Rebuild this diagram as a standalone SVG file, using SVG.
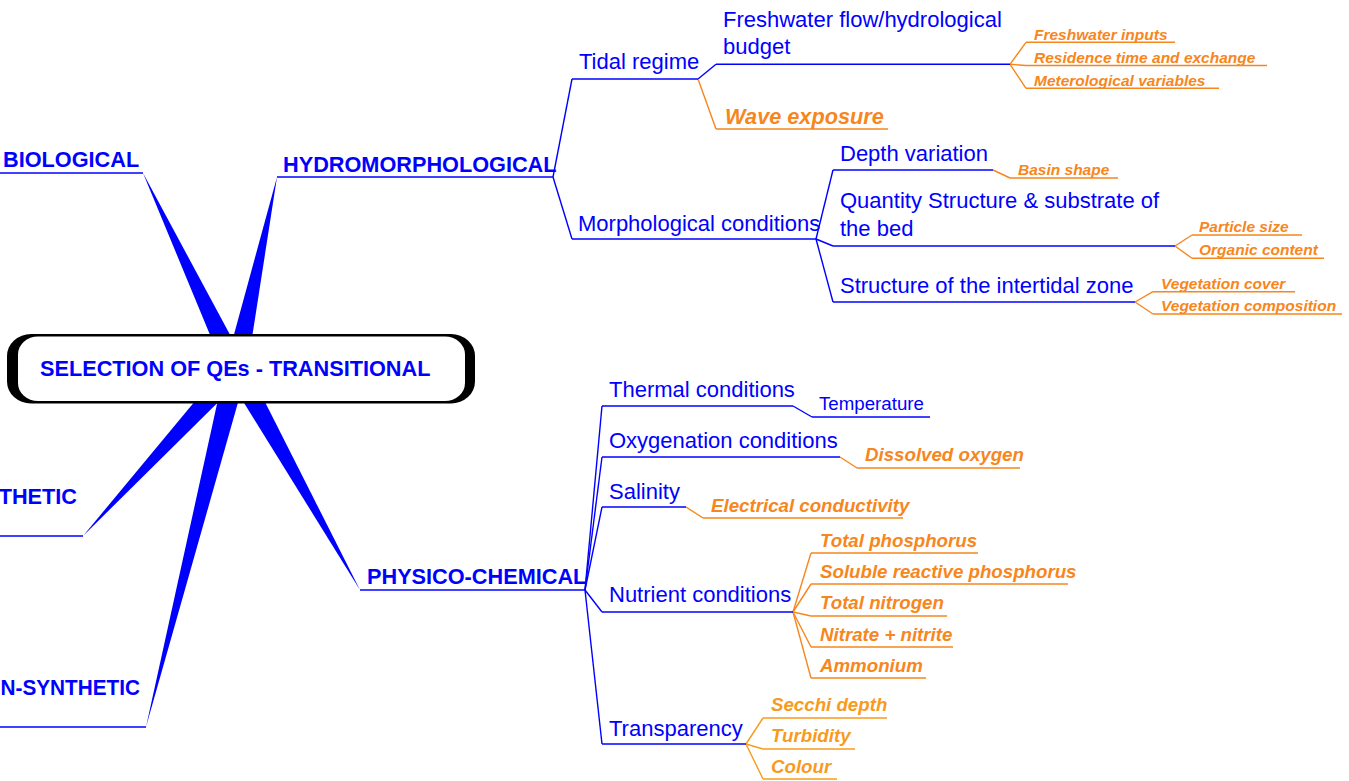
<svg xmlns="http://www.w3.org/2000/svg" width="1349" height="781" viewBox="0 0 1349 781">
<style>
text{font-family:"Liberation Sans",Arial,sans-serif}
.b1{font-size:21.7px;font-weight:bold;fill:#0000FF}
.r1{font-size:22px;fill:#0000FF}
.r2{font-size:18.7px;fill:#0000FF}
.o1{font-size:21.7px;font-weight:bold;font-style:italic;fill:#F7861C}
.o2{font-size:18.7px;font-weight:bold;font-style:italic;fill:#F7861C}
.o2y{font-size:18.7px;font-weight:bold;font-style:italic;fill:#F89B1C}
.o3{font-size:15.5px;font-weight:bold;font-style:italic;fill:#F7861C}
.bl{fill:none;stroke:#0000FF;stroke-width:1.4;stroke-linejoin:round}
.ol{fill:none;stroke:#F7861C;stroke-width:1.4;stroke-linejoin:round}
.oly{fill:none;stroke:#F89B1C;stroke-width:1.4;stroke-linejoin:round}
.wedge{fill:#0000FF;stroke:none}
</style>
<rect width="1349" height="781" fill="#FFFFFF"/>
<g id="connectors">
  <polygon class="wedge" points="143,173 226.1,373.7 245.9,364.3"/>
  <polygon class="wedge" points="277,177 225.2,366.7 246.8,371.3"/>
  <polygon class="wedge" points="83,536 244.1,376.4 227.9,361.6"/>
  <polygon class="wedge" points="146,727 246.7,371.7 225.3,366.3"/>
  <polygon class="wedge" points="360,590 245.6,363.6 226.4,374.4"/>
  <!-- hydromorphological -->
  <polyline class="bl" points="553,177 572,79"/>
  <polyline class="bl" points="553,177 572,239"/>
  <polyline class="bl" points="698,79 716,64.3"/>
  <polyline class="ol" points="698,79 716,129"/>
  <polyline class="ol" points="1010,64.3 1026,42.3"/>
  <polyline class="ol" points="1010,64.3 1026,65.5"/>
  <polyline class="ol" points="1010,64.3 1026,88.3"/>
  <polyline class="bl" points="816,239 833,170"/>
  <polyline class="bl" points="816,239 833,246"/>
  <polyline class="bl" points="816,239 833,302"/>
  <polyline class="ol" points="993,170 1010,178"/>
  <polyline class="ol" points="1175,246 1192,235"/>
  <polyline class="ol" points="1175,246 1192,258.3"/>
  <polyline class="ol" points="1135,302 1153,291.7"/>
  <polyline class="ol" points="1135,302 1153,314"/>
  <!-- physico-chemical -->
  <polyline class="bl" points="585,590 602,406"/>
  <polyline class="bl" points="585,590 602,457"/>
  <polyline class="bl" points="585,590 602,507"/>
  <polyline class="bl" points="585,590 602,612"/>
  <polyline class="bl" points="585,590 602,744"/>
  <polyline class="bl" points="793,406 812,417"/>
  <polyline class="ol" points="840,457 857,468"/>
  <polyline class="ol" points="686,507 703,518"/>
  <polyline class="ol" points="793,612 811,553"/>
  <polyline class="ol" points="793,612 811,584"/>
  <polyline class="ol" points="793,612 811,616"/>
  <polyline class="ol" points="793,612 811,647"/>
  <polyline class="ol" points="793,612 811,678"/>
  <polyline class="oly" points="746,744 763,718"/>
  <polyline class="oly" points="746,744 763,749"/>
  <polyline class="oly" points="746,744 763,779"/>
</g>
<g id="center">
  <rect x="7" y="334" width="468" height="69.5" rx="24" ry="22" fill="#000000"/>
  <rect x="18" y="336.5" width="447" height="64.5" rx="20" ry="18" fill="#FFFFFF"/>
  <text class="b1" x="40" y="376">SELECTION OF QEs - TRANSITIONAL</text>
</g>
<g id="biological">
  <line class="bl" x1="0" y1="173" x2="143" y2="173"/>
  <text class="b1" x="3" y="167">BIOLOGICAL</text>
</g>
<g id="synthetic">
  <line class="bl" x1="0" y1="536" x2="83" y2="536"/>
  <text class="b1" x="77" y="504" text-anchor="end">THETIC</text>
</g>
<g id="non-synthetic">
  <line class="bl" x1="0" y1="727" x2="146" y2="727"/>
  <text class="b1" x="0.5" y="695" textLength="139.5" lengthAdjust="spacingAndGlyphs">N-SYNTHETIC</text>
</g>
<g id="hydromorphological">
  <line class="bl" x1="277" y1="177" x2="553" y2="177"/>
  <text class="b1" x="283" y="172">HYDROMORPHOLOGICAL</text>
</g>
<g id="physico-chemical">
  <line class="bl" x1="360" y1="590" x2="585" y2="590"/>
  <text class="b1" x="367" y="584">PHYSICO-CHEMICAL</text>
</g>
<g id="tidal-regime">
  <line class="bl" x1="572" y1="79" x2="698" y2="79"/>
  <text class="r1" x="579" y="69">Tidal regime</text>
</g>
<g id="freshwater-flow">
  <line class="bl" x1="716" y1="64.3" x2="1010" y2="64.3"/>
  <text class="r1" x="723" y="27">Freshwater flow/hydrological</text>
  <text class="r1" x="723" y="54">budget</text>
</g>
<g id="freshwater-inputs">
  <line class="ol" x1="1026" y1="42.3" x2="1175" y2="42.3"/>
  <text class="o3" x="1034" y="39.5">Freshwater inputs</text>
</g>
<g id="residence-time">
  <line class="ol" x1="1026" y1="65.5" x2="1267" y2="65.5"/>
  <text class="o3" x="1034" y="62.5">Residence time and exchange</text>
</g>
<g id="meterological">
  <line class="ol" x1="1026" y1="88.3" x2="1219" y2="88.3"/>
  <text class="o3" x="1034" y="85.5">Meterological variables</text>
</g>
<g id="wave-exposure">
  <line class="ol" x1="716" y1="129" x2="888" y2="129"/>
  <text class="o1" x="725" y="123.5">Wave exposure</text>
</g>
<g id="morphological-conditions">
  <line class="bl" x1="572" y1="239" x2="816" y2="239"/>
  <text class="r1" x="578" y="231">Morphological conditions</text>
</g>
<g id="depth-variation">
  <line class="bl" x1="833" y1="170" x2="993" y2="170"/>
  <text class="r1" x="840" y="161">Depth variation</text>
</g>
<g id="basin-shape">
  <line class="ol" x1="1010" y1="178" x2="1118" y2="178"/>
  <text class="o3" x="1018" y="175">Basin shape</text>
</g>
<g id="quantity-structure">
  <line class="bl" x1="833" y1="246" x2="1175" y2="246"/>
  <text class="r1" x="840" y="208">Quantity Structure &amp; substrate of</text>
  <text class="r1" x="840" y="235.5">the bed</text>
</g>
<g id="particle-size">
  <line class="ol" x1="1192" y1="235" x2="1302" y2="235"/>
  <text class="o3" x="1199" y="232">Particle size</text>
</g>
<g id="organic-content">
  <line class="ol" x1="1192" y1="258.3" x2="1324" y2="258.3"/>
  <text class="o3" x="1199" y="255.3">Organic content</text>
</g>
<g id="intertidal-zone">
  <line class="bl" x1="833" y1="302" x2="1135" y2="302"/>
  <text class="r1" x="840" y="293">Structure of the intertidal zone</text>
</g>
<g id="vegetation-cover">
  <line class="ol" x1="1153" y1="291.7" x2="1295" y2="291.7"/>
  <text class="o3" x="1161" y="288.5">Vegetation cover</text>
</g>
<g id="vegetation-composition">
  <line class="ol" x1="1153" y1="314" x2="1342" y2="314"/>
  <text class="o3" x="1161" y="311">Vegetation composition</text>
</g>
<g id="thermal-conditions">
  <line class="bl" x1="602" y1="406" x2="793" y2="406"/>
  <text class="r1" x="609" y="397">Thermal conditions</text>
</g>
<g id="temperature">
  <line class="bl" x1="812" y1="417" x2="930" y2="417"/>
  <text class="r2" x="819" y="410">Temperature</text>
</g>
<g id="oxygenation-conditions">
  <line class="bl" x1="602" y1="457" x2="840" y2="457"/>
  <text class="r1" x="609" y="448">Oxygenation conditions</text>
</g>
<g id="dissolved-oxygen">
  <line class="ol" x1="857" y1="468" x2="1020" y2="468"/>
  <text class="o2" x="865" y="461">Dissolved oxygen</text>
</g>
<g id="salinity">
  <line class="bl" x1="602" y1="507" x2="686" y2="507"/>
  <text class="r1" x="609" y="498.5">Salinity</text>
</g>
<g id="electrical-conductivity">
  <line class="ol" x1="703" y1="518" x2="903" y2="518"/>
  <text class="o2" x="711" y="512">Electrical conductivity</text>
</g>
<g id="nutrient-conditions">
  <line class="bl" x1="602" y1="612" x2="793" y2="612"/>
  <text class="r1" x="609" y="602">Nutrient conditions</text>
</g>
<g id="total-phosphorus">
  <line class="ol" x1="811" y1="553" x2="978" y2="553"/>
  <text class="o2" x="820" y="547">Total phosphorus</text>
</g>
<g id="soluble-reactive-phosphorus">
  <line class="ol" x1="811" y1="584" x2="1068" y2="584"/>
  <text class="o2" x="820" y="578">Soluble reactive phosphorus</text>
</g>
<g id="total-nitrogen">
  <line class="ol" x1="811" y1="616" x2="947" y2="616"/>
  <text class="o2" x="820" y="609">Total nitrogen</text>
</g>
<g id="nitrate-nitrite">
  <line class="ol" x1="811" y1="647" x2="953" y2="647"/>
  <text class="o2" x="820" y="640.5">Nitrate + nitrite</text>
</g>
<g id="ammonium">
  <line class="ol" x1="811" y1="678" x2="926" y2="678"/>
  <text class="o2" x="820" y="672">Ammonium</text>
</g>
<g id="transparency">
  <line class="bl" x1="602" y1="744" x2="746" y2="744"/>
  <text class="r1" x="609" y="735.5">Transparency</text>
</g>
<g id="secchi-depth">
  <line class="oly" x1="763" y1="718" x2="887" y2="718"/>
  <text class="o2y" x="771" y="711">Secchi depth</text>
</g>
<g id="turbidity">
  <line class="oly" x1="763" y1="749" x2="855" y2="749"/>
  <text class="o2y" x="771" y="742">Turbidity</text>
</g>
<g id="colour">
  <line class="oly" x1="763" y1="779" x2="837" y2="779"/>
  <text class="o2y" x="771" y="773">Colour</text>
</g>
</svg>
